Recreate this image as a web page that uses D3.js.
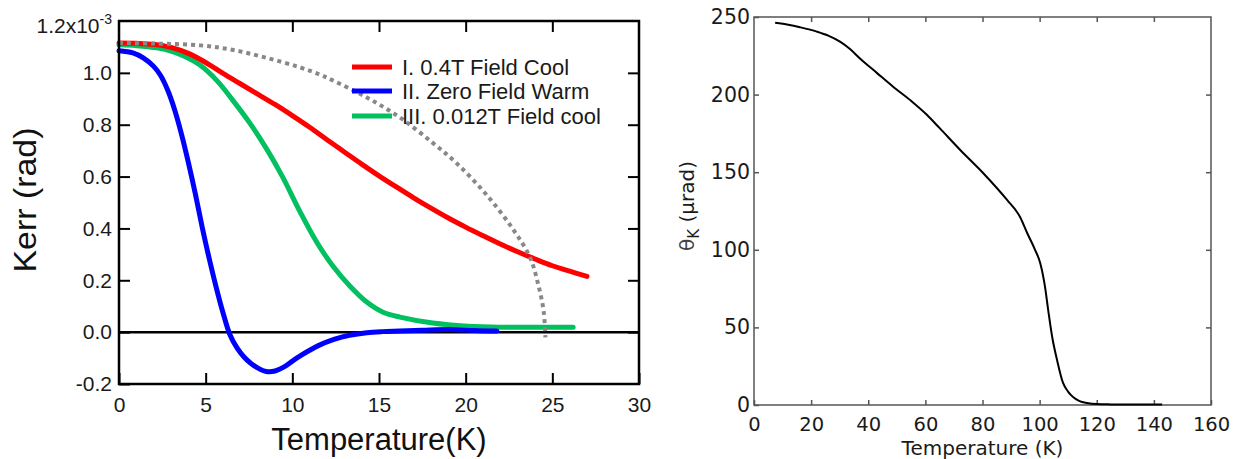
<!DOCTYPE html>
<html>
<head>
<meta charset="utf-8">
<script src="https://cdn.jsdelivr.net/npm/d3@7"></script>
<style>
  html, body { margin: 0; padding: 0; background: #fff; }
  svg { display: block; }
</style>
</head>
<body>
<svg id="fig" width="1241" height="459"></svg>
<script>
// ---------- Left panel: Kerr rotation vs temperature (units of 1e-3 rad) ----------
const kerrXTicks = [0, 5, 10, 15, 20, 25, 30];
const kerrYTicks = [-0.2, 0.0, 0.2, 0.4, 0.6, 0.8, 1.0];
const kerrYTop = 1.2;

const seriesNames = ["I. 0.4T Field Cool", "II. Zero Field Warm", "III. 0.012T Field cool"];
const seriesColors = ["#ff0000", "#0000ff", "#00c060"];

// I. 0.4T field cool
const fcT = [0, 1, 2, 3, 4, 5, 6, 7, 8, 9, 10, 11, 12, 13, 14, 15, 16, 17, 18, 19, 20, 21, 22, 23, 24, 25, 26, 27];
const fcK = [1.115, 1.114, 1.110, 1.098, 1.075, 1.040, 0.998, 0.958, 0.918, 0.878, 0.835, 0.790, 0.742, 0.695, 0.648, 0.603, 0.560, 0.518, 0.478, 0.440, 0.405, 0.372, 0.340, 0.310, 0.282, 0.256, 0.235, 0.215];

// II. zero field warm
const zfT = [0, 0.8, 1.4, 2.0, 2.4, 2.8, 3.2, 3.6, 4.0, 4.4, 4.8, 5.2, 5.6, 6.0, 6.4, 6.8, 7.2, 7.6, 8.0, 8.5, 9.0, 9.5, 10.0, 10.5, 11.0, 11.5, 12.4, 13.3, 14.3, 15.2, 16.2, 17.5, 19.1, 20.5, 21.8];
const zfK = [1.085, 1.077, 1.058, 1.025, 0.990, 0.935, 0.860, 0.765, 0.655, 0.535, 0.405, 0.285, 0.175, 0.075, -0.010, -0.060, -0.095, -0.120, -0.138, -0.152, -0.150, -0.135, -0.112, -0.090, -0.070, -0.052, -0.028, -0.012, -0.002, 0.002, 0.004, 0.007, 0.010, 0.006, 0.004];

// III. 0.012T field cool
const lfT = [0, 1, 2, 2.8, 3.7, 4.67, 5.65, 6.58, 7.56, 8.54, 9.46, 10.44, 11.42, 12.35, 13.33, 14.31, 15.23, 16.21, 18.1, 20.1, 22.0, 24.0, 26.2];
const lfK = [1.108, 1.105, 1.098, 1.088, 1.066, 1.030, 0.970, 0.893, 0.805, 0.704, 0.596, 0.465, 0.346, 0.254, 0.177, 0.115, 0.077, 0.058, 0.035, 0.023, 0.019, 0.019, 0.019];

// mean-field style guide curve (dotted)
const guideT = [0, 2, 4.7, 6.6, 8.5, 10.4, 11.6, 12.3, 14.3, 16.2, 18.1, 19.5, 21.2, 22.7, 23.7, 24.2, 24.5, 24.6];
const guideK = [1.115, 1.113, 1.106, 1.088, 1.058, 1.022, 0.993, 0.972, 0.905, 0.828, 0.730, 0.650, 0.530, 0.400, 0.290, 0.180, 0.080, -0.020];

// ---------- Right panel: theta_K vs temperature ----------
const thXTicks = [0, 20, 40, 60, 80, 100, 120, 140, 160];
const thYTicks = [0, 50, 100, 150, 200, 250];
const thT = [7.4, 12, 16.1, 22, 26, 30.1, 33.5, 37.1, 43, 48.7, 55, 60.6, 65.1, 72.2, 80.2, 88.6, 93.2, 95.6, 98.4, 100.2, 101.9, 103, 104.4, 106.1, 108.2, 110, 111.7, 114, 116.6, 120.1, 125, 130, 135, 140, 142.9];
const thV = [246.3, 245, 243.4, 240.6, 238, 234.1, 229.5, 223.3, 214, 205.1, 196, 186.9, 178.2, 164.3, 149.5, 132.1, 121, 111, 100, 91.5, 76, 61.2, 43.8, 29, 14.2, 8.5, 5.2, 2.5, 1.3, 0.6, 0.4, 0.3, 0.4, 0.3, 0.3];

const svg = d3.select("#fig");
svg.append("rect").attr("width", 1241).attr("height", 459).attr("fill", "#fff");

const sansL = "'Liberation Sans', Arial, sans-serif";
const sansR = "'DejaVu Sans', Verdana, sans-serif";

// ===== Left panel =====
const xL = d3.scaleLinear().domain([0, 30]).range([119, 639]);
const yL = d3.scaleLinear().domain([-0.2, 1.2]).range([384, 21]);
const left = svg.append("g");

function styleAxis(g, color, width, font, size) {
  g.select(".domain").remove();
  g.selectAll(".tick line").attr("stroke", color).attr("stroke-width", width);
  g.selectAll(".tick text").attr("fill", "#1a1a1a").style("font-family", font).style("font-size", size + "px");
}

left.append("g").attr("transform", `translate(0,${yL(-0.2)})`)
  .call(d3.axisBottom(xL).tickValues(kerrXTicks).tickSize(-11).tickPadding(13).tickFormat(d3.format("d")))
  .call(g => styleAxis(g, "#000", 2, sansL, 21));
left.append("g").attr("transform", `translate(0,${yL(1.2)})`)
  .call(d3.axisTop(xL).tickValues(kerrXTicks.slice(1, -1)).tickSize(-11).tickFormat(""))
  .call(g => styleAxis(g, "#000", 2, sansL, 21));
left.append("g").attr("transform", `translate(${xL(0)},0)`)
  .call(d3.axisLeft(yL).tickValues(kerrYTicks).tickSize(-11).tickPadding(7).tickFormat(d => d.toFixed(1)))
  .call(g => styleAxis(g, "#000", 2, sansL, 21));
left.append("g").attr("transform", `translate(${xL(30)},0)`)
  .call(d3.axisRight(yL).tickValues(kerrYTicks.slice(1)).tickSize(-11).tickFormat(""))
  .call(g => styleAxis(g, "#000", 2, sansL, 21));

// top-left scale label with exponent
const topLab = left.append("text")
  .attr("x", xL(0) - 7).attr("y", yL(kerrYTop) + 12)
  .attr("text-anchor", "end").attr("fill", "#1a1a1a")
  .style("font-family", sansL).style("font-size", "21px");
topLab.append("tspan").text(kerrYTop.toFixed(1) + "x10");
topLab.append("tspan").attr("dy", -9).style("font-size", "14px").text("-3");

// zero line
left.append("line")
  .attr("x1", xL(0)).attr("x2", xL(30)).attr("y1", yL(0)).attr("y2", yL(0))
  .attr("stroke", "#000").attr("stroke-width", 2.5);

const zipTK = (t, k) => t.map((v, i) => [v, k[i]]);
const lineL = d3.line().x(d => xL(d[0])).y(d => yL(d[1])).curve(d3.curveCatmullRom.alpha(0.5));

const kerrSeries = [
  { T: lfT, K: lfK, c: seriesColors[2] },
  { T: fcT, K: fcK, c: seriesColors[0] },
  { T: zfT, K: zfK, c: seriesColors[1] }
];
left.selectAll("path.series").data(kerrSeries).join("path")
  .attr("class", "series")
  .attr("d", s => lineL(zipTK(s.T, s.K)))
  .attr("fill", "none").attr("stroke", s => s.c)
  .attr("stroke-width", 5).attr("stroke-linejoin", "round").attr("stroke-linecap", "round");

left.append("path")
  .attr("d", lineL(zipTK(guideT, guideK)))
  .attr("fill", "none").attr("stroke", "#888")
  .attr("stroke-width", 4).attr("stroke-dasharray", "4,4");

// frame
left.append("rect")
  .attr("x", xL(0)).attr("y", yL(1.2)).attr("width", xL(30) - xL(0)).attr("height", yL(-0.2) - yL(1.2))
  .attr("fill", "none").attr("stroke", "#000").attr("stroke-width", 2.5);

// legend
const legY = [67, 91, 116];
const leg = left.append("g");
seriesNames.forEach((name, i) => {
  leg.append("line").attr("x1", 352).attr("x2", 392).attr("y1", legY[i]).attr("y2", legY[i])
    .attr("stroke", seriesColors[i]).attr("stroke-width", 5);
  leg.append("text").attr("x", 402).attr("y", legY[i] + 8).text(name)
    .attr("fill", "#1a1a1a").style("font-family", sansL).style("font-size", "22px");
});

// axis titles
left.append("text").attr("x", (xL(0) + xL(30)) / 2).attr("y", 450)
  .attr("text-anchor", "middle").attr("fill", "#111")
  .style("font-family", sansL).style("font-size", "31px").text("Temperature(K)");
left.append("text").attr("transform", "translate(36,200) rotate(-90)")
  .attr("text-anchor", "middle").attr("fill", "#111")
  .attr("textLength", 145).attr("lengthAdjust", "spacingAndGlyphs")
  .style("font-family", sansL).style("font-size", "31px").text("Kerr (rad)");

// ===== Right panel =====
const xR = d3.scaleLinear().domain([0, 160]).range([754, 1211]);
const yR = d3.scaleLinear().domain([0, 250]).range([405, 17]);
const right = svg.append("g");

right.append("g").attr("transform", `translate(0,${yR(0)})`)
  .call(d3.axisBottom(xR).tickValues(thXTicks).tickSize(-5).tickPadding(12).tickFormat(d3.format("d")))
  .call(g => styleAxis(g, "#555", 1.5, sansR, 19.5));
right.append("g").attr("transform", `translate(0,${yR(250)})`)
  .call(d3.axisTop(xR).tickValues(thXTicks.slice(1, -1)).tickSize(-5).tickFormat(""))
  .call(g => styleAxis(g, "#555", 1.5, sansR, 19.5));
right.append("g").attr("transform", `translate(${xR(0)},0)`)
  .call(d3.axisLeft(yR).tickValues(thYTicks).tickSize(-5).tickPadding(4).tickFormat(d3.format("d")))
  .call(g => styleAxis(g, "#555", 1.5, sansR, 20.5));
right.append("g").attr("transform", `translate(${xR(160)},0)`)
  .call(d3.axisRight(yR).tickValues(thYTicks.slice(1, -1)).tickSize(-5).tickFormat(""))
  .call(g => styleAxis(g, "#555", 1.5, sansR, 20.5));

right.append("rect")
  .attr("x", xR(0)).attr("y", yR(250)).attr("width", xR(160) - xR(0)).attr("height", yR(0) - yR(250))
  .attr("fill", "none").attr("stroke", "#555").attr("stroke-width", 1.5);

const lineR = d3.line().x(d => xR(d[0])).y(d => yR(d[1])).curve(d3.curveMonotoneX);
right.append("path")
  .attr("d", lineR(zipTK(thT, thV)))
  .attr("fill", "none").attr("stroke", "#000").attr("stroke-width", 2)
  .attr("stroke-linejoin", "round");

right.append("text").attr("x", (xR(0) + xR(160)) / 2).attr("y", 455)
  .attr("text-anchor", "middle").attr("fill", "#1a1a1a")
  .style("font-family", sansR).style("font-size", "20px").text("Temperature (K)");

const yTitle = right.append("text").attr("transform", "translate(694,206) rotate(-90)")
  .attr("text-anchor", "middle").attr("fill", "#1a1a1a")
  .style("font-family", sansR).style("font-size", "20px");
yTitle.append("tspan").attr("fill", "#444").text("θ");
yTitle.append("tspan").attr("dy", 5).style("font-size", "15px").text("K");
yTitle.append("tspan").attr("dy", -5).text(" (μrad)");
</script>
</body>
</html>
